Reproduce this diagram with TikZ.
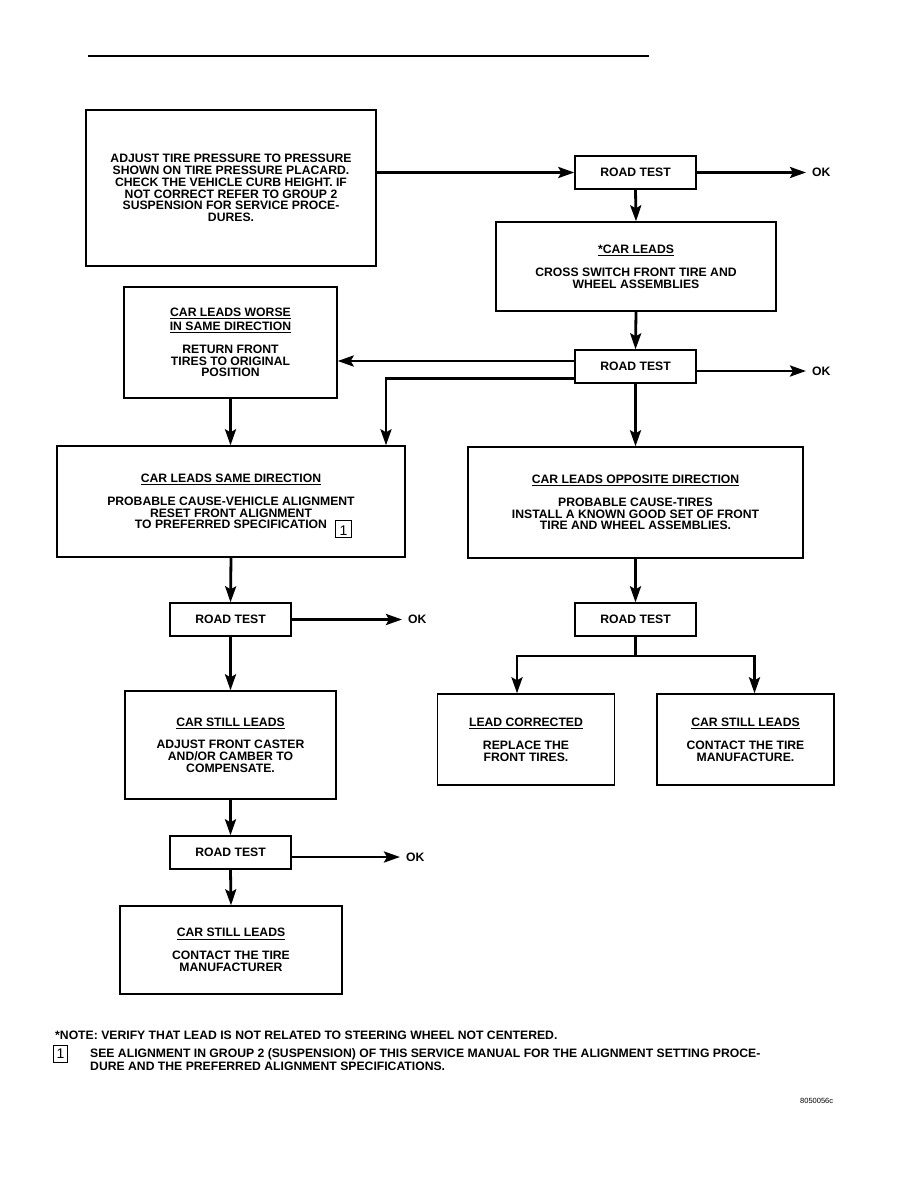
\documentclass[tikz,border=0pt]{standalone}
\usepackage{fontspec}
\setmainfont{Liberation Sans}
\usetikzlibrary{arrows.meta}
\newcommand\ulh[1]{\leavevmode\vtop{\hbox{#1}\kern1.6pt\hrule height 0.9pt}}
\newcommand\numbox{\smash{\raisebox{-8.5pt}{\fboxsep=0pt\fboxrule=0.7pt\framebox[17pt][c]{\rule{0pt}{17pt}\raisebox{1.5pt}{\mdseries\fontsize{14}{14}\selectfont 1}}}}}
\tikzset{
  box/.style={draw, line width=1.4pt, align=center, inner sep=0pt,
    font=\bfseries\fontsize{12.2}{11.8}\selectfont},
  rt/.style={box, minimum width=121pt, minimum height=33pt},
  conn/.style={line width=2.8pt},
  arr/.style={conn, -{Stealth[length=16pt,width=11pt,inset=3pt]}},
  oklab/.style={anchor=west, inner sep=0pt, font=\bfseries\fontsize{12.2}{12}\selectfont},
  foot/.style={anchor=base west, inner sep=0pt, font=\bfseries\fontsize{12.2}{12}\selectfont},
}
\begin{document}
\begin{tikzpicture}[x=1pt,y=-1pt]
\useasboundingbox (0,0) rectangle (918,1188);
% top rule
\coordinate (ruleL) at (88,56);
\coordinate (ruleR) at (649,56);
\draw[line width=2.4pt] (ruleL) -- (ruleR);

% boxes
\node[box, minimum width=290pt, minimum height=156pt] (A) at (231,188)
  {ADJUST TIRE PRESSURE TO PRESSURE\\SHOWN ON TIRE PRESSURE PLACARD.\\CHECK THE VEHICLE CURB HEIGHT. IF\\NOT CORRECT REFER TO GROUP 2\\SUSPENSION FOR SERVICE PROCE-\\DURES.};
\node[rt] (RT1) at (635.5,172.5) {ROAD TEST};
\node[oklab] (ok1) at (812,172.5) {OK};
\node[box, minimum width=280pt, minimum height=89pt] (B) at (636,266.5)
  {\ulh{*CAR LEADS}\\[11pt]CROSS SWITCH FRONT TIRE AND\\WHEEL ASSEMBLIES};
\node[rt] (RT2) at (635.5,366.5) {ROAD TEST};
\node[oklab] (ok2) at (812,371) {OK};
\node[box, minimum width=213pt, minimum height=111pt] (C) at (230.5,342.5)
  {\ulh{CAR LEADS WORSE}\\[2pt]\ulh{IN SAME DIRECTION}\\[11pt]RETURN FRONT\\TIRES TO ORIGINAL\\POSITION};
\node[box, minimum width=348pt, minimum height=111pt] (D) at (231,501.5)
  {\ulh{CAR LEADS SAME DIRECTION}\\[11pt]PROBABLE CAUSE-VEHICLE ALIGNMENT\\RESET FRONT ALIGNMENT\\TO PREFERRED SPECIFICATION\rlap{\hspace{8pt}\numbox}};
\node[box, minimum width=335pt, minimum height=111pt] (E) at (635.5,502.5)
  {\ulh{CAR LEADS OPPOSITE DIRECTION}\\[11pt]PROBABLE CAUSE-TIRES\\INSTALL A KNOWN GOOD SET OF FRONT\\TIRE AND WHEEL ASSEMBLIES.};
\node[rt] (RT3) at (230.5,619.5) {ROAD TEST};
\node[oklab] (ok3) at (408,619.5) {OK};
\node[rt] (RT5) at (635.5,619.5) {ROAD TEST};
\node[box, minimum width=211pt, minimum height=108pt] (F) at (230.5,745)
  {\ulh{CAR STILL LEADS}\\[11pt]ADJUST FRONT CASTER\\AND/OR CAMBER TO\\COMPENSATE.};
\node[rt] (RT4) at (230.5,852.5) {ROAD TEST};
\node[oklab] (ok4) at (406,857) {OK};
\node[box, minimum width=222pt, minimum height=88pt] (G) at (231,950)
  {\ulh{CAR STILL LEADS}\\[11pt]CONTACT THE TIRE\\MANUFACTURER};
\node[box, minimum width=177pt, minimum height=91pt] (H) at (526,739.5)
  {\ulh{LEAD CORRECTED}\\[11pt]REPLACE THE\\FRONT TIRES.};
\node[box, minimum width=177pt, minimum height=91pt] (I) at (745.5,739.5)
  {\ulh{CAR STILL LEADS}\\[11pt]CONTACT THE TIRE\\MANUFACTURE.};

% connectors
\draw[arr] (A.east |- RT1.west) -- (RT1.west);
\draw[arr, shorten >=6pt] (RT1.east) -- (ok1.west);
\draw[arr] (RT1.south) -- (B.north);
\draw[arr] (B.south) -- (RT2.north);
\draw[arr, shorten >=6pt] (RT2.east |- ok2.west) -- (ok2.west);
\coordinate (c2a) at (576,361);
\coordinate (c2b) at (576,378.5);
\coordinate (c2v) at (386,378.5);
\draw[arr] (c2a) -- (C.east |- c2a);
\draw[arr] (c2b) -- (c2v) -- (c2v |- D.north);
\draw[arr] (C.south) -- (C.south |- D.north);
\draw[arr] (RT2.south) -- (RT2.south |- E.north);
\draw[arr] (D.south) -- (RT3.north);
\draw[arr, shorten >=6pt] (RT3.east) -- (ok3.west);
\draw[arr] (RT3.south) -- (F.north);
\draw[arr] (F.south) -- (RT4.north);
\draw[arr, shorten >=6pt] (RT4.east |- ok4.west) -- (ok4.west);
\draw[arr] (RT4.south) -- (G.north);
\draw[arr] (E.south -| RT5.north) -- (RT5.north);
\coordinate (bl) at (517,656);
\coordinate (br) at (754.5,656);
\draw[conn] (RT5.south) -- (RT5.south |- bl);
\draw[arr] (RT5.south |- bl) -- (bl) -- (bl |- H.north);
\draw[arr] (RT5.south |- br) -- (br) -- (br |- I.north);

% footnotes
\node[foot] (n1) at (55,1039)
  {*NOTE: VERIFY THAT LEAD IS NOT RELATED TO STEERING WHEEL NOT CENTERED.};
\node[draw, line width=0.7pt, minimum width=14pt, minimum height=17pt, inner sep=0pt,
  font=\fontsize{14}{14}\selectfont] (nb) at (60.5,1054) {1};
\node[foot] (n2) at (90,1057)
  {SEE ALIGNMENT IN GROUP 2 (SUSPENSION) OF THIS SERVICE MANUAL FOR THE ALIGNMENT SETTING PROCE-};
\node[foot] (n3) at (90,1070)
  {DURE AND THE PREFERRED ALIGNMENT SPECIFICATIONS.};
\node[anchor=base west, inner sep=0pt, font=\fontsize{7.5}{8}\selectfont] (code) at (800,1103) {8050056c};
\end{tikzpicture}
\end{document}
